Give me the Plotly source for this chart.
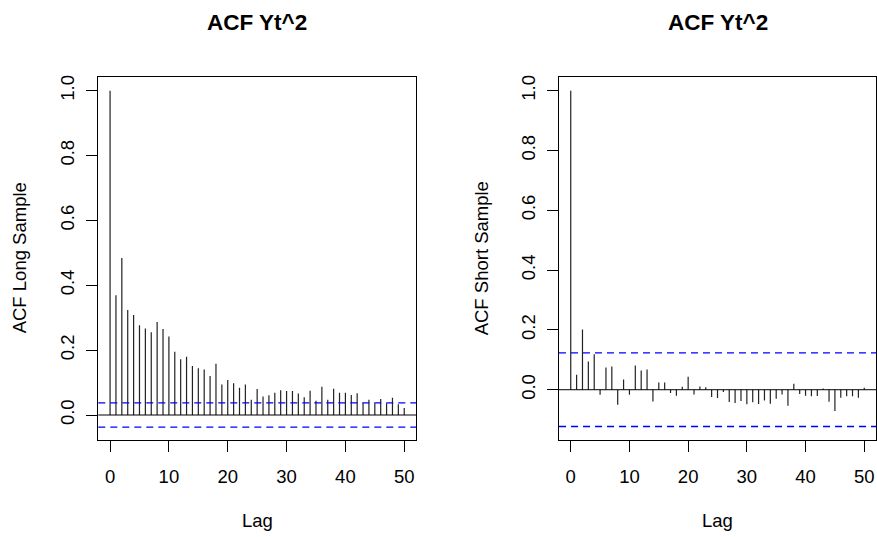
import plotly.graph_objects as go

# ---------------- data ----------------
lags = list(range(51))

acf_long = [1.0, 0.369, 0.484, 0.324, 0.308, 0.277, 0.267, 0.255, 0.287, 0.265,
            0.242, 0.195, 0.172, 0.180, 0.151, 0.144, 0.140, 0.120, 0.158, 0.094,
            0.108, 0.098, 0.084, 0.094, 0.047, 0.080, 0.057, 0.061, 0.069, 0.076,
            0.074, 0.074, 0.066, 0.055, 0.075, 0.044, 0.087, 0.047, 0.081, 0.069,
            0.069, 0.062, 0.067, 0.037, 0.047, 0.036, 0.049, 0.036, 0.053, 0.033,
            0.022]

acf_short = [1.0, 0.050, 0.201, 0.094, 0.119, -0.017, 0.074, 0.078, -0.050, 0.034,
             -0.017, 0.081, 0.064, 0.068, -0.039, 0.024, 0.024, -0.011, -0.020, 0.010,
             0.043, -0.016, 0.011, 0.008, -0.024, -0.028, -0.008, -0.041, -0.044, -0.038,
             -0.049, -0.042, -0.048, -0.036, -0.047, -0.030, -0.016, -0.054, 0.020, -0.014,
             -0.020, -0.022, -0.021, 0.004, -0.040, -0.071, -0.027, -0.022, -0.022, -0.027,
             0.007]

ci_long = 0.0375
ci_short = 0.123

title_text = "ACF Yt^2"
xlab = "Lag"
ylab_long = "ACF Long Sample"
ylab_short = "ACF Short Sample"
x_ticks = [0, 10, 20, 30, 40, 50]
y_ticks = [0.0, 0.2, 0.4, 0.6, 0.8, 1.0]
y_ticklabels = ["0.0", "0.2", "0.4", "0.6", "0.8", "1.0"]

# ---------------- figure ----------------
W, H = 877, 537
FONT = "Liberation Sans, Arial, Helvetica, sans-serif"
FS = 18.5
TFS = 22.5


def spikes(xs, ys):
    px, py = [], []
    for x, y in zip(xs, ys):
        px += [x, x, None]
        py += [0, y, None]
    return px, py


fig = go.Figure()
sx, sy = spikes(lags, acf_long)
fig.add_trace(go.Scatter(x=sx, y=sy, mode="lines", line=dict(color="#222222", width=1.2),
                         xaxis="x", yaxis="y", hoverinfo="skip", showlegend=False))
sx, sy = spikes(lags, acf_short)
fig.add_trace(go.Scatter(x=sx, y=sy, mode="lines", line=dict(color="#222222", width=1.2),
                         xaxis="x2", yaxis="y2", hoverinfo="skip", showlegend=False))

# plot boxes in pixels
L1, R1 = 98.3, 416.0
L2, R2 = 559.0, 876.0
TOP, BOT = 75.3, 439.3

ydom = [1 - BOT / H, 1 - TOP / H]

xax = dict(range=[-2, 52], tickvals=x_ticks, ticks="outside", ticklen=11, tickcolor="black",
           showline=True, mirror=True, linecolor="black", linewidth=1, showgrid=False,
           zeroline=False, tickfont=dict(size=FS, color="black", family=FONT),
           ticklabelstandoff=9)
yax = dict(tickvals=y_ticks, ticktext=y_ticklabels, ticks="outside", ticklen=11,
           tickcolor="black", showline=True, mirror=True, linecolor="black", linewidth=1,
           showgrid=False, zeroline=False, tickangle=-90,
           tickfont=dict(size=FS, color="black", family=FONT), ticklabelstandoff=5)

fig.update_layout(
    width=W, height=H,
    margin=dict(l=0, r=0, t=0, b=0),
    paper_bgcolor="white", plot_bgcolor="white",
    font=dict(family=FONT, color="black"),
    xaxis=dict(domain=[L1 / W, R1 / W], anchor="y", **xax),
    yaxis=dict(domain=ydom, anchor="x", range=[-0.076, 1.042], **yax),
    xaxis2=dict(domain=[L2 / W, R2 / W], anchor="y2", **xax),
    yaxis2=dict(domain=ydom, anchor="x2", range=[-0.167, 1.0456], **yax),
)

shapes = []
for xr, yr, ci in [("x domain", "y", ci_long), ("x2 domain", "y2", ci_short)]:
    shapes.append(dict(type="line", xref=xr, yref=yr, x0=0, x1=1, y0=0, y1=0,
                       line=dict(color="black", width=1)))
    for v in (ci, -ci):
        shapes.append(dict(type="line", xref=xr, yref=yr, x0=0, x1=1, y0=v, y1=v,
                           line=dict(color="#0000FF", width=1.3, dash="7px,5px")))
fig.update_layout(shapes=shapes)

ann = []
mid_y = 1 - ((TOP + BOT) / 2) / H
for (l, r), ylab, ylx in [((L1, R1), ylab_long, 19), ((L2, R2), ylab_short, 481)]:
    cx = (l + r) / 2 / W
    ann.append(dict(text="<b>" + title_text + "</b>", x=cx, y=1 - 21 / H, xref="paper",
                    yref="paper", showarrow=False, xanchor="center", yanchor="middle",
                    font=dict(size=TFS, family=FONT, color="black")))
    ann.append(dict(text=xlab, x=cx, y=1 - 520 / H, xref="paper", yref="paper",
                    showarrow=False, xanchor="center", yanchor="middle",
                    font=dict(size=FS, family=FONT, color="black")))
    ann.append(dict(text=ylab, x=ylx / W, y=mid_y, xref="paper", yref="paper",
                    showarrow=False, xanchor="center", yanchor="middle", textangle=-90,
                    font=dict(size=FS, family=FONT, color="black")))
fig.update_layout(annotations=ann)

fig.write_html("out.html",
               config={"displayModeBar": False},
               post_script="document.body.style.margin='0';document.body.style.overflow='hidden';")
